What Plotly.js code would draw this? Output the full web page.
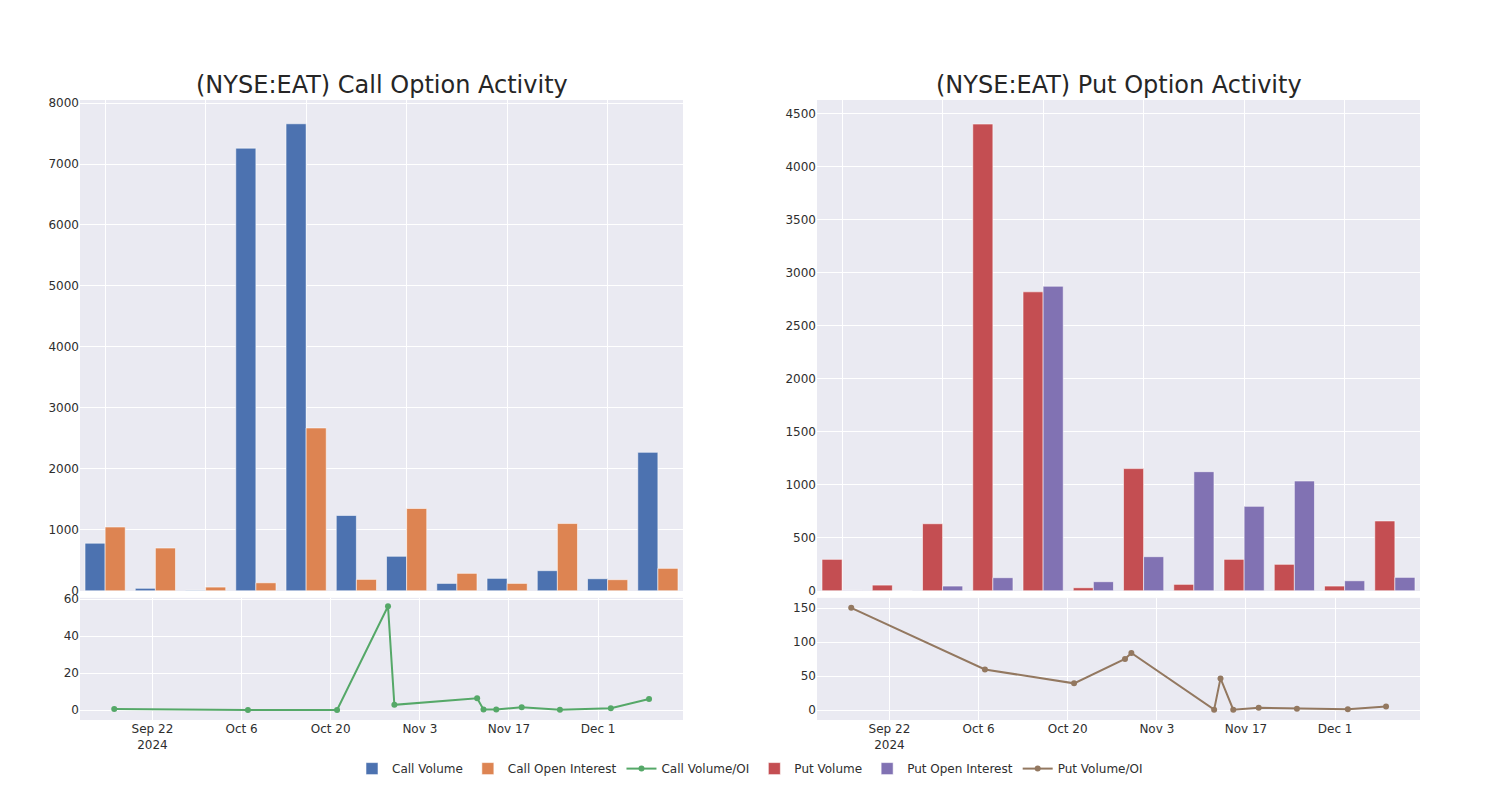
<!DOCTYPE html>
<html>
<head>
<meta charset="utf-8">
<script src="https://cdn.plot.ly/plotly-3.0.1.min.js"></script>
<style>html,body{margin:0;padding:0;background:#fff;}#chart{width:1500px;height:800px;}</style>
</head>
<body>
<div id="chart"></div>
<script>
// Expiration / activity dates
const dates = ['2024-09-16','2024-10-07','2024-10-21','2024-10-29','2024-10-30','2024-11-12',
               '2024-11-13','2024-11-15','2024-11-19','2024-11-25','2024-12-03','2024-12-09'];

// Call side
const callVolume = [780, 40, 8, 7260, 7660, 1235, 565, 120, 203, 329, 197, 2270];
const callOpenInterest = [1045, 700, 60, 130, 2670, 186, 1349, 285, 120, 1102, 181, 367];
const callVolOI = [0.7, 0.05, 0.08, 56.2, 2.9, 6.4, 0.4, 0.4, 1.6, 0.2, 1.1, 6.0];

// Put side
const putVolume = [296, 53, 632, 4403, 2820, 28, 1152, 60, 296, 249, 44, 658];
const putOpenInterest = [4, 2, 44, 123, 2873, 85, 321, 1123, 796, 1035, 94, 126];
const putVolOI = [150.5, 59.7, 39.3, 75.2, 84.0, 0.5, 46.6, 0.5, 3.4, 1.9, 1.0, 5.3];

const titles = ['(NYSE:EAT) Call Option Activity', '(NYSE:EAT) Put Option Activity'];

const C = {blue:'#4C72B0', orange:'#DD8452', green:'#55A868', red:'#C44E52', purple:'#8172B3', brown:'#937860'};
const edge = {color:'rgba(255,255,255,0.55)', width:1};

const traces = [
  {type:'bar', name:'Call Volume', x:dates, y:callVolume, xaxis:'x', yaxis:'y', marker:{color:C.blue, line:edge}},
  {type:'bar', name:'Call Open Interest', x:dates, y:callOpenInterest, xaxis:'x', yaxis:'y', marker:{color:C.orange, line:edge}},
  {type:'scatter', mode:'lines+markers', name:'Call Volume/OI', x:dates, y:callVolOI, xaxis:'x2', yaxis:'y2',
   line:{color:C.green, width:2}, marker:{color:C.green, size:6}},
  {type:'bar', name:'Put Volume', x:dates, y:putVolume, xaxis:'x3', yaxis:'y3', marker:{color:C.red, line:edge}},
  {type:'bar', name:'Put Open Interest', x:dates, y:putOpenInterest, xaxis:'x3', yaxis:'y3', marker:{color:C.purple, line:edge}},
  {type:'scatter', mode:'lines+markers', name:'Put Volume/OI', x:dates, y:putVolOI, xaxis:'x4', yaxis:'y4',
   line:{color:C.brown, width:2}, marker:{color:C.brown, size:6}}
];

const bg = '#EAEAF2';
const tickFont = {family:'DejaVu Sans', size:12, color:'#2e2e2e'};
const catAxis = (dom, anchor) => ({domain:dom, anchor:anchor, type:'category', showticklabels:false,
  tickmode:'linear', tick0:0, dtick:2, range:[-0.5, 11.5], showgrid:true, gridcolor:'#fff', gridwidth:1,
  zeroline:false, showline:false, ticks:''});
const dateAxis = (dom, anchor) => ({domain:dom, anchor:anchor, type:'date',
  range:['2024-09-10 15:00', '2024-12-14 08:00'], tick0:'2024-09-22', dtick:14*86400000,
  showgrid:true, gridcolor:'#fff', gridwidth:1, zeroline:false, showline:false, ticks:'', tickfont:tickFont});
const valAxis = (dom, anchor, range, dtick) => ({domain:dom, anchor:anchor, range:range, dtick:dtick, tick0:0,
  showgrid:true, gridcolor:'#fff', gridwidth:1, zeroline:false, showline:false, ticks:'', tickfont:tickFont});

const L = [0, 0.45], R = [0.55, 1];
const TOP = [0.208, 1], BOT = [0, 0.197];

const layout = {
  width:1500, height:800,
  margin:{l:80, r:80, t:100, b:80},
  paper_bgcolor:'#fff', plot_bgcolor:bg,
  font:{family:'DejaVu Sans', color:'#2e2e2e'},
  barmode:'group', bargap:0.2, bargroupgap:0,
  showlegend:true,
  legend:{orientation:'h', x:0.5, xanchor:'center', y:-0.055, yanchor:'top',
          font:{family:'DejaVu Sans', size:12, color:'#2e2e2e'}, bgcolor:'rgba(0,0,0,0)'},
  hovermode:false,
  xaxis: catAxis(L, 'y'),
  yaxis: valAxis(TOP, 'x', [-5, 8050], 1000),
  xaxis2: dateAxis(L, 'y2'),
  yaxis2: valAxis(BOT, 'x2', [-5.3, 60.7], 20),
  xaxis3: catAxis(R, 'y3'),
  yaxis3: valAxis(TOP, 'x3', [-3, 4630], 500),
  xaxis4: dateAxis(R, 'y4'),
  yaxis4: valAxis(BOT, 'x4', [-14.7, 165.2], 50),
  annotations: [
    {text:titles[0], xref:'paper', yref:'paper', x:0.225, y:1.0, yshift:-1, xanchor:'center', yanchor:'bottom',
     showarrow:false, font:{family:'DejaVu Sans', size:24, color:'#262626'}},
    {text:titles[1], xref:'paper', yref:'paper', x:0.775, y:1.0, yshift:-1, xanchor:'center', yanchor:'bottom',
     showarrow:false, font:{family:'DejaVu Sans', size:24, color:'#262626'}}
  ]
};

Plotly.newPlot('chart', traces, layout, {displayModeBar:false, staticPlot:true});
</script>
</body>
</html>
